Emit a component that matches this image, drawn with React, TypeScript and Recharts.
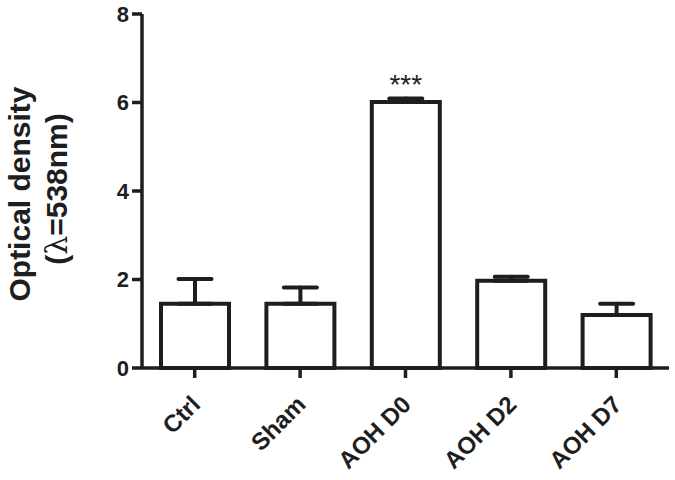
import React from 'react';
import { BarChart, Bar, XAxis, YAxis, ErrorBar, LabelList } from 'recharts';

// values
const groups = ['Ctrl', 'Sham', 'AOH D0', 'AOH D2', 'AOH D7'];
const density = [1.45, 1.45, 6.01, 1.97, 1.2];
const sem = [0.56, 0.37, 0.08, 0.09, 0.25];
const significance = ['', '', '***', '', ''];
const yTicks = [0, 2, 4, 6, 8];

const data = groups.map((g, i) => ({
  name: g,
  value: density[i],
  err: [0, sem[i]],
  sig: significance[i],
}));

const INK = '#1e1e1e';
const FONT = '"Liberation Sans", Arial, Helvetica, sans-serif';

const XTick = (props: any) => {
  const { x, y, payload } = props;
  return (
    <g transform={`translate(${x + 7},${y + 26})`}>
      <text
        x={0}
        y={0}
        transform="rotate(-45)"
        textAnchor="end"
        fontFamily={FONT}
        fontWeight="bold"
        fontSize={24}
        fill={INK}
      >
        {payload.value}
      </text>
    </g>
  );
};

const YTick = (props: any) => {
  const { x, y, payload } = props;
  return (
    <text
      x={x}
      y={y}
      textAnchor="end"
      dominantBaseline="central"
      fontFamily={FONT}
      fontWeight="bold"
      fontSize={22}
      fill={INK}
    >
      {payload.value}
    </text>
  );
};

const YLabel = () => (
  <g>
    <text
      transform="translate(19,194) rotate(-90)"
      textAnchor="middle"
      dominantBaseline="central"
      fontFamily={FONT}
      fontWeight="bold"
      fontSize={30}
      fill={INK}
    >
      Optical density
    </text>
    <text
      transform="translate(56,189) rotate(-90)"
      textAnchor="middle"
      dominantBaseline="central"
      fontFamily={FONT}
      fontWeight="bold"
      fontSize={30}
      fill={INK}
    >
      (<tspan fontFamily='"DejaVu Serif", serif' fontWeight="normal">λ</tspan>=538nm)
    </text>
  </g>
);

const Stars = (props: any) => {
  const { x, y, width, value } = props;
  if (!value) return null;
  return (
    <text
      x={x + width / 2}
      y={y - 8}
      textAnchor="middle"
      fontFamily={FONT}
      fontSize={28}
      fill={INK}
    >
      {value}
    </text>
  );
};

export default function App() {
  return (
    <div style={{ position: 'absolute', left: 0, top: 0, background: '#fff' }}>
      <BarChart
        width={675}
        height={480}
        data={data}
        margin={{ top: 14, right: 6, left: 0, bottom: 0 }}
        barCategoryGap={0}
      >
        <XAxis
          dataKey="name"
          height={112}
          interval={0}
          tick={<XTick />}
          tickSize={10}
          tickMargin={2}
          axisLine={{ stroke: INK, strokeWidth: 3.5 }}
          tickLine={{ stroke: INK, strokeWidth: 3.5 }}
        />
        <YAxis
          width={142}
          domain={[0, 8]}
          ticks={yTicks}
          tickSize={10}
          tickMargin={3}
          axisLine={{ stroke: INK, strokeWidth: 3.5 }}
          tickLine={{ stroke: INK, strokeWidth: 3.5 }}
          tick={<YTick />}
          label={{ content: () => <YLabel /> }}
        />
        <Bar
          dataKey="value"
          barSize={68}
          fill="#ffffff"
          stroke={INK}
          strokeWidth={4}
          isAnimationActive={false}
        >
          <ErrorBar
            dataKey="err"
            width={16.5}
            stroke={INK}
            strokeWidth={4}
            strokeLinecap="round"
            direction="y"
          />
          <LabelList dataKey="sig" content={<Stars />} />
        </Bar>
      </BarChart>
    </div>
  );
}
